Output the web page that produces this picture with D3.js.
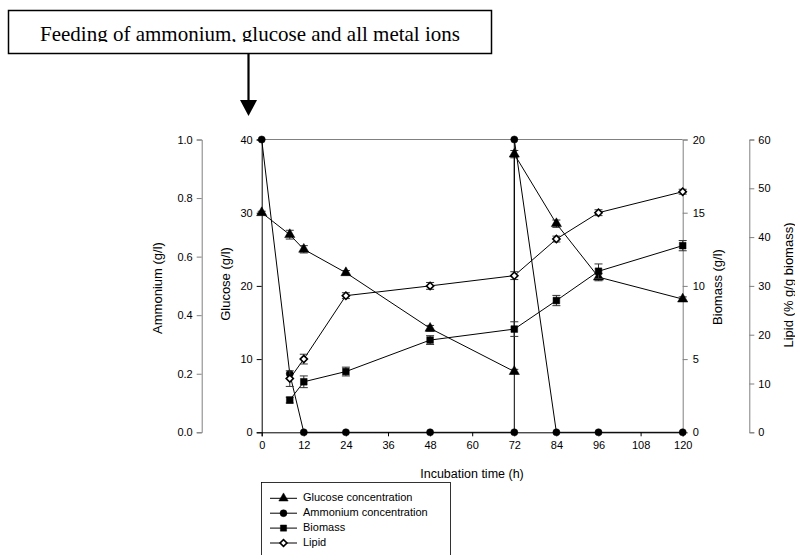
<!DOCTYPE html>
<html>
<head>
<meta charset="utf-8">
<style>
  body { margin: 0; background: #fff; }
  svg text { font-family: "Liberation Sans", Arial, sans-serif; }
  .tick text { font-size: 11px; fill: #000; }
</style>
</head>
<body>
<div id="chart"></div>
<script src="https://cdn.jsdelivr.net/npm/d3@7/dist/d3.min.js"></script>
<script>
// data
var timeTicks = [0, 12, 24, 36, 48, 60, 72, 84, 96, 108, 120];

var glucoseTime = [0, 8, 12, 24, 48, 72, 72, 84, 96, 120];
var glucose     = [30, 27, 25, 21.8, 14.2, 8.3, 38, 28.5, 21.2, 18.2];
var glucoseErr  = [0.2, 0.6, 0.5, 0.3, 0.4, 0.3, 0.5, 0.5, 0.5, 0.3];

var ammoniumTime = [0, 8, 12, 24, 48, 72, 72, 84, 96, 120];
var ammonium     = [1.0, 0.2, 0, 0, 0, 0, 1.0, 0, 0, 0];

var biomassTime = [8, 12, 24, 48, 72, 84, 96, 120];
var biomass     = [2.2, 3.45, 4.15, 6.3, 7.05, 9.0, 11.0, 12.75];
var biomassErr  = [0.2, 0.4, 0.3, 0.3, 0.5, 0.35, 0.5, 0.35];

var lipidTime = [8, 12, 24, 48, 72, 84, 96, 120];
var lipid     = [11.0, 15.0, 28.0, 30.0, 32.1, 39.6, 45.0, 49.3];
var lipidErr  = [1.6, 1.0, 0.6, 0.7, 0.8, 0.6, 0.6, 0.5];

var legendLabels = ["Glucose concentration", "Ammonium concentration", "Biomass", "Lipid"];

var width = 795, height = 555;

var svg = d3.select("#chart").append("svg")
    .attr("width", width)
    .attr("height", height);

var x = d3.scaleLinear().domain([0, 120]).range([261.7, 682.7]);
var yGlu = d3.scaleLinear().domain([0, 40]).range([432.3, 139.5]);
var yAmm = d3.scaleLinear().domain([0, 1]).range([432.3, 139.5]);
var yBio = d3.scaleLinear().domain([0, 20]).range([432.3, 139.5]);
var yLip = d3.scaleLinear().domain([0, 60]).range([432.3, 139.5]);

function styleAxis(g, col) {
    g.selectAll(".domain").attr("stroke", col);
    g.selectAll(".tick line").attr("stroke", col);
}

// top frame line
svg.append("line")
    .attr("x1", x(0)).attr("x2", x(120))
    .attr("y1", yGlu(40)).attr("y2", yGlu(40))
    .attr("stroke", "#808080");

// ammonium axis
var gA = svg.append("g").attr("transform", "translate(201.7,0)")
    .call(d3.axisLeft(yAmm).tickValues([0, 0.2, 0.4, 0.6, 0.8, 1.0]).tickFormat(d3.format(".1f")).tickSizeOuter(0).tickSize(5).tickPadding(4));
styleAxis(gA, "#808080");

// glucose axis
var gG = svg.append("g").attr("transform", "translate(" + x(0) + ",0)")
    .call(d3.axisLeft(yGlu).tickValues([0, 10, 20, 30, 40]).tickSizeOuter(0).tickSize(5).tickPadding(4));
styleAxis(gG, "#000");

// biomass axis
var gB = svg.append("g").attr("transform", "translate(" + x(120) + ",0)")
    .call(d3.axisRight(yBio).tickValues([0, 5, 10, 15, 20]).tickSizeOuter(0).tickSize(5).tickPadding(5));
styleAxis(gB, "#808080");

// lipid axis
var gL = svg.append("g").attr("transform", "translate(749.3,0)")
    .call(d3.axisRight(yLip).tickValues([0, 10, 20, 30, 40, 50, 60]).tickSizeOuter(0).tickSize(5).tickPadding(4));
styleAxis(gL, "#808080");

// x axis
var gX = svg.append("g").attr("transform", "translate(0," + yGlu(0) + ")")
    .call(d3.axisBottom(x).tickValues(timeTicks).tickSizeOuter(0).tickSize(4).tickPadding(5));
styleAxis(gX, "#000");

// axis titles
function vTitle(tx, ty, txt) {
    svg.append("text")
        .attr("transform", "translate(" + tx + "," + ty + ") rotate(-90)")
        .attr("text-anchor", "middle")
        .attr("dominant-baseline", "middle")
        .attr("font-size", 13)
        .text(txt);
}
vTitle(159, 288, "Ammonium  (g/l)");
vTitle(227, 284, "Glucose (g/l)");
vTitle(719, 287, "Biomass (g/l)");
vTitle(790, 285, "Lipid (% g/g biomass)");

svg.append("text")
    .attr("x", 472).attr("y", 478)
    .attr("text-anchor", "middle")
    .attr("font-size", 12.5)
    .text("Incubation time (h)");

var line = d3.line();

function drawSym(sel, symType, symSize, open) {
    sel.attr("d", d3.symbol().type(open ? d3.symbolSquare : symType).size(symSize))
        .attr("fill", open ? "#fff" : "#000")
        .attr("stroke", "#000")
        .attr("stroke-width", open ? 1.6 : 0.5);
}

function series(times, vals, errs, yScale, symType, symSize, open) {
    var pts = times.map(function (t, i) { return [x(t), yScale(vals[i])]; });
    svg.append("path")
        .attr("d", line(pts))
        .attr("fill", "none")
        .attr("stroke", "#000")
        .attr("stroke-width", 1);
    if (errs) {
        var eb = svg.append("g").attr("stroke", "#333").attr("stroke-width", 1);
        times.forEach(function (t, i) {
            var cx = x(t), y1 = yScale(vals[i] - errs[i]), y2 = yScale(vals[i] + errs[i]);
            eb.append("line").attr("x1", cx).attr("x2", cx).attr("y1", y1).attr("y2", y2);
            eb.append("line").attr("x1", cx - 4).attr("x2", cx + 4).attr("y1", y1).attr("y2", y1);
            eb.append("line").attr("x1", cx - 4).attr("x2", cx + 4).attr("y1", y2).attr("y2", y2);
        });
    }
    svg.append("g").selectAll("path")
        .data(pts)
        .enter().append("path")
        .attr("transform", function (d) {
            return "translate(" + d[0] + "," + d[1] + ")" + (open ? " rotate(45)" : "");
        })
        .call(drawSym, symType, symSize, open);
}

series(glucoseTime, glucose, glucoseErr, yGlu, d3.symbolTriangle, 45, false);
series(ammoniumTime, ammonium, null, yAmm, d3.symbolCircle, 40, false);
series(biomassTime, biomass, biomassErr, yBio, d3.symbolSquare, 45, false);
series(lipidTime, lipid, lipidErr, yLip, null, 26, true);

// legend
var legSym = [d3.symbolTriangle, d3.symbolCircle, d3.symbolSquare, null];
svg.append("rect")
    .attr("x", 261.5).attr("y", 482.5)
    .attr("width", 189).attr("height", 90)
    .attr("fill", "none").attr("stroke", "#000").attr("stroke-width", 0.8);
legendLabels.forEach(function (lab, i) {
    var ly = 498.3 + i * 14.9;
    svg.append("line").attr("x1", 270).attr("x2", 297).attr("y1", ly).attr("y2", ly)
        .attr("stroke", "#000");
    svg.append("path")
        .attr("transform", "translate(283.5," + ly + ")" + (i == 3 ? " rotate(45)" : ""))
        .call(drawSym, legSym[i], i == 3 ? 24 : 38, i == 3);
    svg.append("text")
        .attr("x", 303).attr("y", ly)
        .attr("dominant-baseline", "middle")
        .attr("font-size", 11)
        .text(lab);
});

// feeding annotation
svg.append("clipPath").attr("id", "annClip")
    .append("rect").attr("x", 0).attr("y", 0).attr("width", 520).attr("height", 42);
svg.append("rect")
    .attr("x", 8.5).attr("y", 10.5)
    .attr("width", 483).attr("height", 43)
    .attr("fill", "#fff").attr("stroke", "#000").attr("stroke-width", 1.5);
svg.append("text")
    .attr("x", 250).attr("y", 41)
    .attr("text-anchor", "middle")
    .attr("clip-path", "url(#annClip)")
    .style("font-family", "'Liberation Serif', 'Times New Roman', serif")
    .attr("font-size", 21)
    .text("Feeding of ammonium, glucose and all metal ions");
svg.append("line")
    .attr("x1", 248.5).attr("x2", 248.5).attr("y1", 54).attr("y2", 101)
    .attr("stroke", "#000").attr("stroke-width", 2.2);
svg.append("path")
    .attr("d", "M240,100L257,100L248.5,116Z")
    .attr("fill", "#000");
</script>
</body>
</html>
